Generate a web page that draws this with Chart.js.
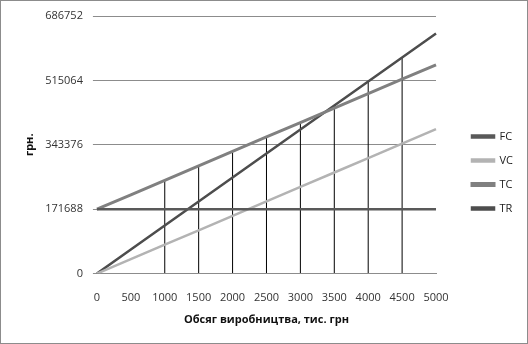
<!DOCTYPE html>
<html>
<head>
<meta charset="utf-8">
<script src="https://cdn.jsdelivr.net/npm/chart.js@4/dist/chart.umd.min.js"></script>
<style>
    body { margin: 0; background: #fff; }
    #wrap { width: 526px; height: 342px; border: 1px solid #8c8c8c; position: relative; }
</style>
</head>
<body>
<div id="wrap"><canvas id="chart"></canvas></div>
<script>
// Output volume, thousand UAH
const volumes = ["0", "500", "1000", "1500", "2000", "2500", "3000", "3500", "4000", "4500", "5000"];
const yTicks = [0, 171688, 343376, 515064, 686752];

const fc = [171688, 171688, 171688, 171688, 171688, 171688, 171688, 171688, 171688, 171688, 171688];
const vc = [0, 38500, 77000, 115500, 154000, 192500, 231000, 269500, 308000, 346500, 385000];
const tc = [171688, 210188, 248688, 287188, 325688, 364188, 402688, 441188, 479688, 518188, 556688];
const tr = [0, 64000, 128000, 192000, 256000, 320000, 384000, 448000, 512000, 576000, 640000];

// drop lines (top of each vertical line)
const dropTops = [null, null, 248688, 287188, 325688, 364188, 402688, 448000, 512000, 576000, null];

const font = { family: "'Open Sans', 'DejaVu Sans', sans-serif", size: 11 };
const LEGEND_GAP = 23;
const LEGEND_SHIFT_Y = 9;

// widen the gap between plot and legend, nudge legend down a bit
const legendGap = {
    id: "legendGap",
    beforeLayout(chart) {
        const lg = chart.legend;
        if (lg && !lg._wrapped) {
            const fit = lg.fit;
            lg.fit = function () {
                fit.call(this);
                this.width += LEGEND_GAP;
            };
            lg._wrapped = true;
        }
    },
    afterLayout(chart) {
        const lg = chart.legend;
        lg.left += LEGEND_GAP;
        lg.top += LEGEND_SHIFT_Y;
        lg.bottom += LEGEND_SHIFT_Y;
    }
};

const ctx = document.getElementById("chart").getContext("2d");
new Chart(ctx, {
    data: {
        labels: volumes,
        datasets: [
            {
                type: "line", label: "FC", data: fc,
                borderColor: "#595959", backgroundColor: "#595959",
                borderWidth: 2.5, pointRadius: 0, order: 1
            },
            {
                type: "line", label: "VC", data: vc,
                borderColor: "#b3b3b3", backgroundColor: "#b3b3b3",
                borderWidth: 2.5, pointRadius: 0, order: 1
            },
            {
                type: "line", label: "TC", data: tc,
                borderColor: "#808080", backgroundColor: "#808080",
                borderWidth: 3, pointRadius: 0, order: 1
            },
            {
                type: "line", label: "TR", data: tr,
                borderColor: "#4d4d4d", backgroundColor: "#4d4d4d",
                borderWidth: 2.5, pointRadius: 0, order: 1
            },
            {
                type: "bar", label: "drop", data: dropTops.map(v => v === null ? null : [0, v]),
                backgroundColor: "#000", barThickness: 1, inflateAmount: 0, order: 2
            }
        ]
    },
    options: {
        responsive: true,
        maintainAspectRatio: false,
        animation: false,
        layout: { padding: { top: 0, right: 4, left: 18, bottom: 17 } },
        plugins: {
            tooltip: { enabled: false },
            legend: {
                position: "right",
                labels: {
                    filter: item => item.text !== "drop",
                    boxWidth: 22, boxHeight: 2, padding: 13,
                    color: "#222", font: font
                }
            }
        },
        scales: {
            x: {
                offset: false,
                grid: { display: false, drawTicks: false },
                border: { color: "#8c8c8c" },
                ticks: { color: "#333", font: font, maxRotation: 0, autoSkip: false, padding: 18 },
                title: {
                    display: true, text: "Обсяг виробництва, тис. грн",
                    color: "#111", font: { family: font.family, size: 11, weight: "bold" },
                    padding: { top: -10, bottom: 0 }
                }
            },
            y: {
                min: 0, max: 686752,
                afterBuildTicks: axis => { axis.ticks = yTicks.map(v => ({ value: v })); },
                afterFit: axis => { axis.paddingTop = 15; },
                grid: { color: "#8c8c8c", tickLength: 4, tickColor: "#8c8c8c" },
                border: { display: false },
                ticks: { color: "#333", font: font, padding: 10, callback: v => String(v) },
                title: {
                    display: true, text: "грн.",
                    color: "#111", font: { family: font.family, size: 11, weight: "bold" },
                    padding: { top: 4, bottom: -1 }
                }
            }
        }
    },
    plugins: [legendGap]
});
</script>
</body>
</html>
